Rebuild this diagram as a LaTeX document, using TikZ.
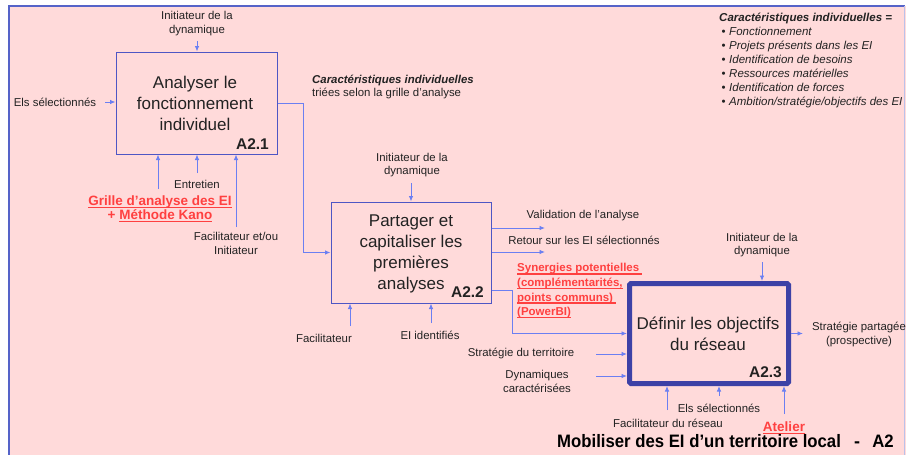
\documentclass[tikz,border=0pt]{standalone}
\usepackage{fontspec}
\setmainfont{Liberation Sans}
\newcommand\redul[1]{\setbox0\hbox{#1}\rlap{\rule[-2.6pt]{\wd0}{1.4pt}}\box0}
\usetikzlibrary{arrows.meta}
\definecolor{bgpink}{HTML}{FFDADA}
\definecolor{frameblue}{HTML}{5563C8}
\definecolor{boxblue}{HTML}{4E56C4}
\definecolor{thickblue}{HTML}{3D41A6}
\definecolor{conn}{HTML}{6B7FF2}
\definecolor{redt}{HTML}{FF4040}
\definecolor{txt}{HTML}{222222}
\tikzset{
  lbl/.style={font=\fontsize{11.4}{13.5}\selectfont, text=txt, align=center, inner sep=0pt},
  redlbl/.style={font=\fontsize{13.5}{14.5}\selectfont\bfseries, text=redt, align=center, inner sep=0pt},
  redsmall/.style={font=\fontsize{11.5}{14.6}\selectfont\bfseries, text=redt, align=left, inner sep=0pt},
  bigtxt/.style={font=\fontsize{17}{21}\selectfont, text=txt, align=center, inner sep=0pt},
  code/.style={font=\fontsize{15.5}{17}\selectfont\bfseries, text=txt, inner sep=0pt},
  titletxt/.style={font=\fontsize{18}{20}\selectfont\bfseries, text=black, inner sep=0pt},
  thinbox/.style={draw=boxblue, line width=1pt, fill=none, inner sep=0pt},
  thickbox/.style={draw=thickblue, line width=5pt, rounded corners=1.5pt, inner sep=0pt},
  arr/.style={draw=conn, line width=0.9pt, -{Latex[length=5.5pt,width=4.5pt]}},
}
\begin{document}
\begin{tikzpicture}[x=1pt,y=-1pt]
\useasboundingbox (0,0) rectangle (906,455);
\fill[white] (0,0) rectangle (906,455);
\fill[bgpink] (9,6) rectangle (906,458);
\draw[frameblue, line width=2pt] (9,458) -- (9,6) -- (905,6);
\draw[frameblue!40, line width=1pt] (904,6) -- (904,458);

% ---------- boxes ----------
\node[thinbox, minimum width=161pt, minimum height=102pt] (a21) at (196.5,103) {};
\node[thinbox, minimum width=160pt, minimum height=101pt] (a22) at (411,252.5) {};
\node[thickbox, minimum width=159pt, minimum height=100pt] (a23) at (709,333.5) {};

\node[bigtxt] (t21) at (195,103.5) {Analyser le\\fonctionnement\\individuel};
\node[code, anchor=base east] (c21) at (269,149) {A2.1};
\node[bigtxt] (t22) at (411,253.5) {Partager et\\capitaliser les\\premières\\analyses};
\node[code, anchor=base east] (c22) at (484,297) {A2.2};
\node[bigtxt] (t23) at (708,333.5) {Définir les objectifs\\du réseau};
\node[code, anchor=base east] (c23) at (782,377.5) {A2.3};

% ---------- labels ----------
\node[lbl] (init1) at (197,23.5) {Initiateur de la\\dynamique};
\node[lbl] (els1) at (55,102) {Els sélectionnés};
\node[lbl] (entr) at (197,184) {Entretien};
\node[redlbl] (grille) at (160,209) {\redul{Grille d’analyse des EI}\\+ \redul{Méthode Kano}};
\node[lbl] (fac1) at (236,243.5) {Facilitateur et/ou\\Initiateur};
\node[lbl, align=left, anchor=west, font=\fontsize{11.4}{13}\selectfont] (car) at (312,87.5)
  {\textbf{\textit{Caractéristiques individuelles}}\\triées selon la grille d’analyse};

\node[lbl] (init2) at (412,165) {Initiateur de la\\dynamique};
\node[lbl] (valid) at (583,216) {Validation de l’analyse};
\node[lbl] (retour) at (584,240) {Retour sur les EI sélectionnés};
\node[redsmall, anchor=west] (syn) at (517,291)
  {\redul{Synergies potentielles\ }\\\redul{(complémentarités,}\\\redul{points communs)\ }\\\redul{(PowerBI)}};
\node[lbl] (fac2) at (324,338) {Facilitateur};
\node[lbl] (eiid) at (430,335) {EI identifiés};

\node[lbl] (init3) at (762,245) {Initiateur de la\\dynamique};
\node[lbl] (strat) at (521,353) {Stratégie du territoire};
\node[lbl] (dyn) at (537,381.5) {Dynamiques\\caractérisées};
\node[lbl] (stratp) at (859,334.5) {Stratégie partagée\\(prospective)};
\node[lbl] (els3) at (719,408) {Els sélectionnés};
\node[lbl] (fac3) at (668,423) {Facilitateur du réseau};
\node[redlbl] (atel) at (784,428) {\redul{Atelier}};

\node[titletxt, anchor=base west] (title) at (557,447)
  {\scalebox{0.93}[1]{Mobiliser des EI d’un territoire local}};
\node[titletxt, anchor=base] (dash) at (857,447) {-};
\node[titletxt, anchor=base east] (tcode) at (894,447) {\scalebox{0.93}[1]{A2}};

\node[lbl, align=left, anchor=west, font=\fontsize{11.5}{14}\selectfont] (list) at (719,60)
  {\textbf{\textit{Caractéristiques individuelles =}}\\
   \hspace{2.5pt}•\hspace{3.5pt}\textit{Fonctionnement}\\
   \hspace{2.5pt}•\hspace{3.5pt}\textit{Projets présents dans les EI}\\
   \hspace{2.5pt}•\hspace{3.5pt}\textit{Identification de besoins}\\
   \hspace{2.5pt}•\hspace{3.5pt}\textit{Ressources matérielles}\\
   \hspace{2.5pt}•\hspace{3.5pt}\textit{Identification de forces}\\
   \hspace{2.5pt}•\hspace{3.5pt}\textit{Ambition/stratégie/objectifs des EI}};

% ---------- connector ends ----------
\coordinate (s1) at (197,41);
\coordinate (s2) at (105,102);
\coordinate (s3) at (158,189);
\coordinate (s4) at (197,173);
\coordinate (s5) at (236,227);
\coordinate (k1) at (303,252.5);
\coordinate (s6) at (411,183);
\coordinate (o1) at (545,228);
\coordinate (o2) at (545,252);
\coordinate (k2) at (512,290);
\coordinate (s7) at (350,326);
\coordinate (s8) at (431,323);
\coordinate (s9) at (762,262);
\coordinate (s10) at (596,354);
\coordinate (s11) at (596,376);
\coordinate (o3) at (803,333.5);
\coordinate (s12) at (667,410);
\coordinate (s13) at (719,396);
\coordinate (s14) at (784,414);

% ---------- connectors ----------
\draw[arr] (s1) -- (s1 |- a21.north);
\draw[arr] (s2) -- (s2 -| a21.west);
\draw[arr] (s3) -- (s3 |- a21.south);
\draw[arr] (s4) -- (s4 |- a21.south);
\draw[arr] (s5) -- (s5 |- a21.south);
\draw[arr] (a21.east) -| (k1) -- (a22.west);
\draw[arr] (s6) -- (s6 |- a22.north);
\draw[arr] (o1 -| a22.east) -- (o1);
\draw[arr] (o2 -| a22.east) -- (o2);
\draw[arr] (k2 -| a22.east) -- (k2) |- (a23.west);
\draw[arr] (s7) -- (s7 |- a22.south);
\draw[arr] (s8) -- (s8 |- a22.south);
\draw[arr] (s9) -- (s9 |- a23.north);
\draw[arr] (s10) -- (s10 -| a23.west);
\draw[arr] (s11) -- (s11 -| a23.west);
\draw[arr] (a23.east) -- (o3);
\draw[arr] (s12) -- (s12 |- a23.south);
\draw[arr] (s13) -- (s13 |- a23.south);
\draw[arr] (s14) -- (s14 |- a23.south);
\end{tikzpicture}
\end{document}
